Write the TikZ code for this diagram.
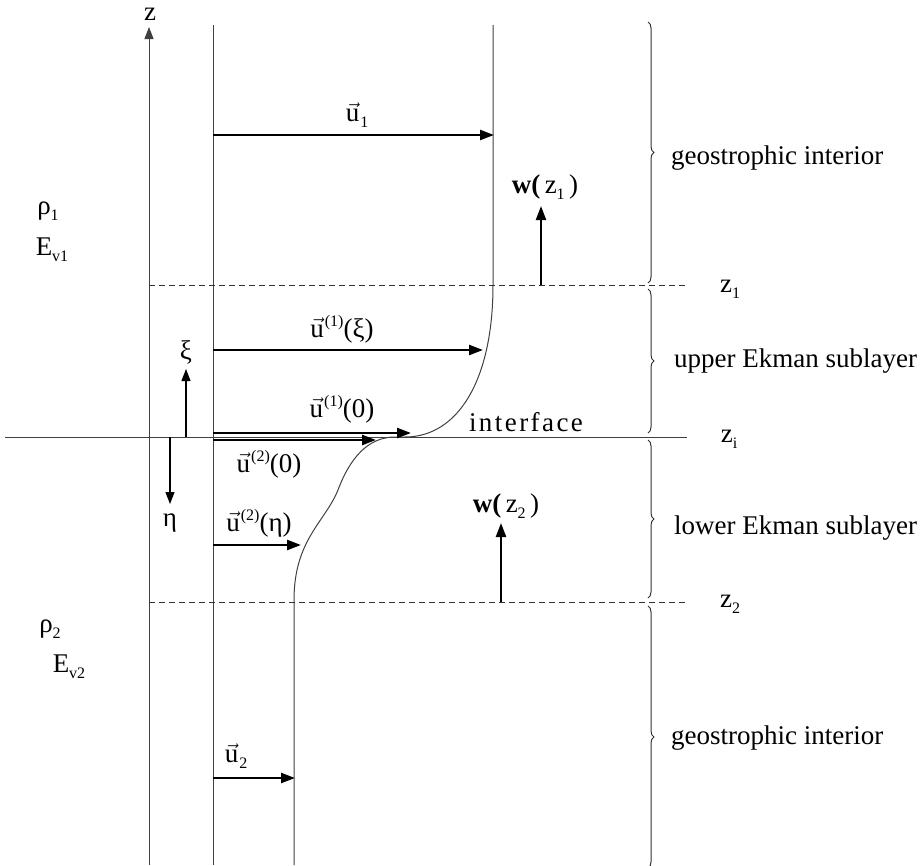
\documentclass[tikz,border=0pt]{standalone}
\usepackage{fontspec}
\setmainfont{Liberation Serif}
\usetikzlibrary{arrows.meta,decorations.pathreplacing}
\newcommand\sbs[1]{\raisebox{-0.22em}{\fontsize{16}{16}\selectfont #1}}
\newcommand\sps[1]{\raisebox{0.42em}{\fontsize{16}{16}\selectfont #1}}
\newcommand\vu{\ensuremath{\vec{\mathrm{u}}}\kern1pt}
\begin{document}
\begin{tikzpicture}[x=1pt,y=-1pt,
  thinln/.style={line width=1pt, draw=black!75},
  dashln/.style={line width=1pt, draw=black!80, dash pattern=on 6pt off 4pt},
  vecarr/.style={line width=2.4pt, -{Triangle[length=14pt,width=10pt]}},
  warr/.style={line width=2.2pt, -{Triangle[length=14pt,width=10pt]}},
  thinarr/.style={line width=1.2pt, -{Triangle[length=12pt,width=9pt]}},
  lbl/.style={font=\fontsize{27}{31}\selectfont, inner sep=0pt},
  brc/.style={line width=1pt, draw=black!80, decorate, decoration={brace, amplitude=6pt}}]
\path[use as bounding box] (0,0) rectangle (921,865);

% axis and verticals
\coordinate (zbot) at (149,865);
\coordinate (ztop) at (149,27);
\draw[thinln, -{Triangle[length=12pt,width=9pt]}] (zbot) -- (ztop);
\node[lbl] (zlab) at (150,14) {z};
\coordinate (l1) at (213,25);
\coordinate (l2) at (213,865);
\draw[thinln] (l1) -- (l2);

% velocity profile
\draw[thinln] (493,25) -- (493,285) .. controls (493,380) and (458,437) .. (405,437)
  -- (395,437) .. controls (368,437) and (350,458) .. (338,490)
  .. controls (325,522) and (294,540) .. (294,600) -- (294,865);

% levels
\coordinate (z1a) at (149,285); \coordinate (z1b) at (687,285);
\draw[dashln] (z1a) -- (z1b);
\coordinate (z2a) at (149,602); \coordinate (z2b) at (687,602);
\draw[dashln] (z2a) -- (z2b);
\coordinate (ia) at (5,437); \coordinate (ib) at (687,437);
\draw[thinln] (ia) -- (ib);

% braces
\draw[brc] (648,22) -- (648,283);
\draw[brc] (648,289) -- (648,433);
\draw[brc] (648,440) -- (648,598);
\draw[brc] (648,606) -- (648,868);

% velocity arrows
\coordinate (a1s) at (213,135); \coordinate (a1e) at (494,135);
\draw[vecarr] (a1s) -- (a1e);
\node[lbl] (u1lab) at (357,115) {\vu\sbs{1}};
\coordinate (a2s) at (213,350); \coordinate (a2e) at (483,350);
\draw[vecarr] (a2s) -- (a2e);
\node[lbl] (uxilab) at (342,329) {\vu\sps{(1)}(ξ)};
\coordinate (a3s) at (213,433); \coordinate (a3e) at (411,433);
\draw[vecarr] (a3s) -- (a3e);
\node[lbl] (u10lab) at (342,409) {\vu\sps{(1)}(0)};
\coordinate (a4s) at (213,440); \coordinate (a4e) at (376,440);
\draw[vecarr] (a4s) -- (a4e);
\node[lbl] (u20lab) at (269,464) {\vu\sps{(2)}(0)};
\coordinate (a5s) at (213,545); \coordinate (a5e) at (301,545);
\draw[vecarr] (a5s) -- (a5e);
\node[lbl] (uetalab) at (259,523) {\vu\sps{(2)}(η)};
\coordinate (a6s) at (213,778); \coordinate (a6e) at (295,778);
\draw[vecarr] (a6s) -- (a6e);
\node[lbl] (u2lab) at (236,756) {\vu\sbs{2}};

% w arrows
\coordinate (w1s) at (541,285); \coordinate (w1e) at (541,206);
\draw[warr] (w1s) -- (w1e);
\node[lbl] (w1lab) at (545,187) {\textbf{w(}\,z\sbs{1}\,)};
\coordinate (w2s) at (501,602); \coordinate (w2e) at (501,523);
\draw[warr] (w2s) -- (w2e);
\node[lbl] (w2lab) at (506,506) {\textbf{w(}\,z\sbs{2}\,)};

% xi, eta
\coordinate (xis) at (186,437); \coordinate (xie) at (186,369);
\draw[thinarr] (xis) -- (xie);
\node[lbl] (xilab) at (186,352) {ξ};
\coordinate (etas) at (170,437); \coordinate (etae) at (170,504);
\draw[thinarr] (etas) -- (etae);
\node[lbl] (etalab) at (170,523) {η};

% left labels
\node[lbl] (rho1) at (48,211) {ρ\sbs{1}};
\node[lbl] (ev1) at (52,250) {E\sbs{v1}};
\node[lbl] (rho2) at (50,629) {ρ\sbs{2}};
\node[lbl] (ev2) at (69,667) {E\sbs{v2}};

% right labels
\node[lbl] (z1lab) at (730,289) {z\sbs{1}};
\node[lbl] (zilab) at (729,439) {z\sbs{i}};
\node[lbl] (z2lab) at (730,604) {z\sbs{2}};
\node[lbl, anchor=west] (geo1) at (671,158) {geostrophic interior};
\node[lbl, anchor=west] (uek) at (674,361) {upper Ekman sublayer};
\node[lbl, anchor=west] (lek) at (674,528) {lower Ekman sublayer};
\node[lbl, anchor=west] (geo2) at (671,738) {geostrophic interior};
\node[lbl, font=\fontsize{27}{31}\selectfont\addfontfeature{LetterSpace=9}] (intf) at (526,422) {interface};
\end{tikzpicture}
\end{document}
